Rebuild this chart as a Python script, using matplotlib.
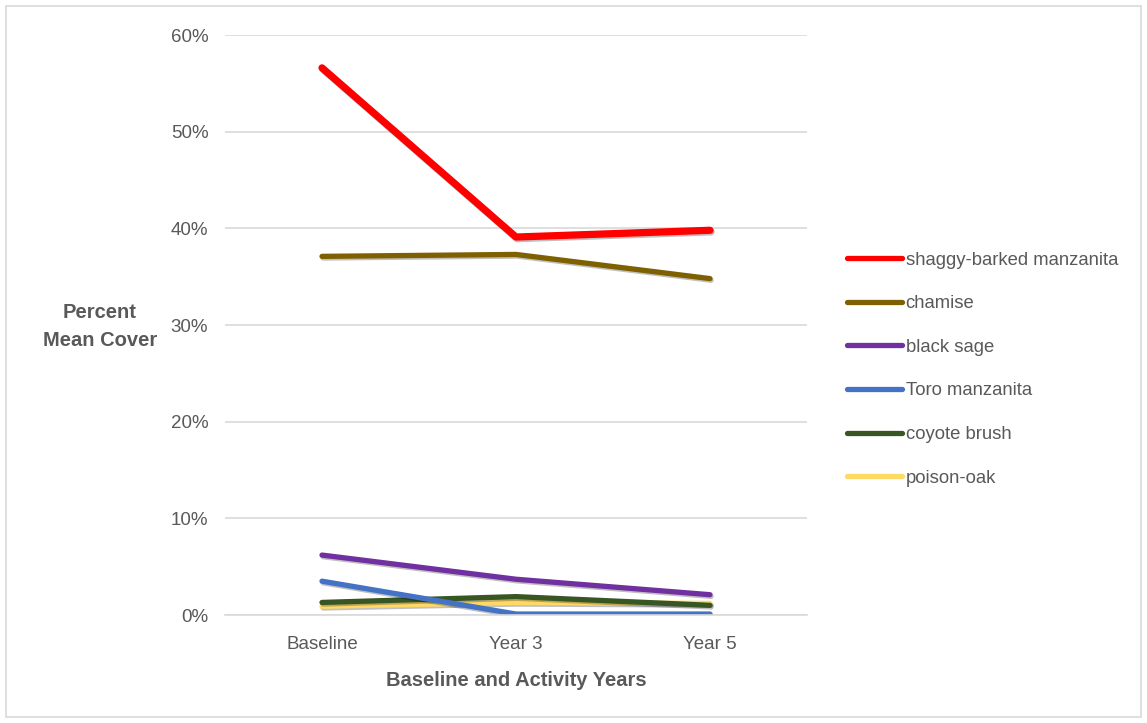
import matplotlib.pyplot as plt
import matplotlib.patheffects as pe
from matplotlib.patches import Rectangle
from matplotlib.ticker import PercentFormatter

years = ['Baseline', 'Year 3', 'Year 5']
species = ['shaggy-barked manzanita', 'chamise', 'black sage',
           'Toro manzanita', 'coyote brush', 'poison-oak']
shaggy = [56.6, 39.1, 39.8]
chamise = [37.1, 37.3, 34.8]
black_sage = [6.2, 3.7, 2.1]
toro = [3.5, 0.1, 0.1]
coyote = [1.3, 1.9, 1.0]
poison_oak = [0.9, 1.3, 1.2]

series = [shaggy, chamise, black_sage, toro, coyote, poison_oak]
colors = ['#ff0000', '#7f6000', '#7030a0', '#4472c4', '#375623', '#ffd966']
widths = [5.2, 3.8, 3.8, 3.8, 3.8, 3.8]

plt.rcParams['font.family'] = ['Liberation Sans Narrow', 'Liberation Sans', 'DejaVu Sans']
grey = '#595959'

fig = plt.figure(figsize=(11.47, 7.23), dpi=100)
ax = fig.add_axes([225 / 1147, 1 - 615 / 723, 582 / 1147, 580 / 723])

# plot in reverse so the first series sits on top
shadow = [pe.SimpleLineShadow(offset=(0.8, -1.2), alpha=0.25, shadow_color='black'), pe.Normal()]
for vals, name, c, w in reversed(list(zip(series, species, colors, widths))):
    ax.plot(range(len(years)), vals, color=c, lw=w, label=name,
            solid_capstyle='round', path_effects=shadow)

ax.set_xlim(-0.5, 2.5)
ax.set_ylim(0, 60)
ax.set_yticks(range(0, 61, 10))
ax.yaxis.set_major_formatter(PercentFormatter(decimals=0))
ax.set_xticks(range(len(years)))
ax.set_xticklabels(years)
ax.grid(axis='y', color='#d9d9d9', lw=1.2)
ax.set_axisbelow(True)
for s in ['top', 'right', 'left']:
    ax.spines[s].set_visible(False)
ax.spines['bottom'].set_color('#d9d9d9')
ax.spines['bottom'].set_linewidth(1.2)
ax.tick_params(length=0, labelsize=13.5, colors=grey, pad=15)
ax.tick_params(axis='y', pad=12)

ax.set_xlabel('Baseline and Activity Years', fontsize=14.5, fontweight='bold', color=grey, labelpad=13)
fig.text(100 / 1147, 1 - 327 / 723, 'Percent\nMean Cover', fontsize=14.5, fontweight='bold',
         color=grey, ha='center', va='center', linespacing=1.6)

handles, labels = ax.get_legend_handles_labels()
leg = fig.legend(handles[::-1], labels[::-1], loc='upper left',
                 bbox_to_anchor=(830 / 1147, 1 - 235 / 723), frameon=False,
                 fontsize=13.3, labelcolor=grey, handlelength=3.0, handletextpad=0.2,
                 labelspacing=1.44)
for line in leg.get_lines():
    line.set_linewidth(3.8)
    line.set_path_effects([])

fig.patches.append(Rectangle((6 / 1147, 6 / 723), 1135 / 1147, 711 / 723,
                             transform=fig.transFigure, fill=False,
                             edgecolor='#d9d9d9', lw=1.2))

fig.savefig('out.png', dpi=100)
